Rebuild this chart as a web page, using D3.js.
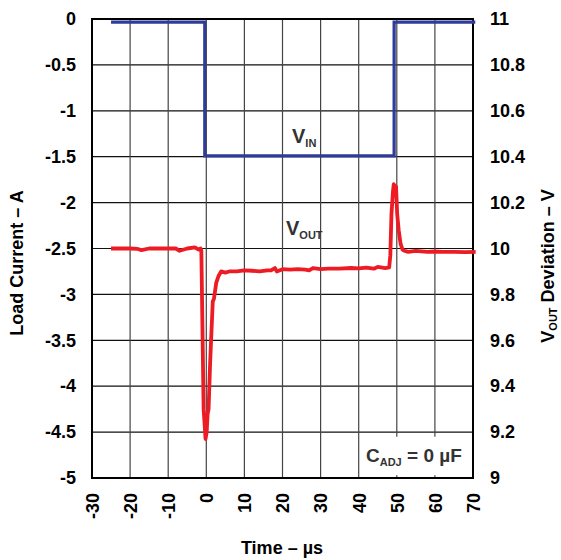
<!DOCTYPE html>
<html><head><meta charset="utf-8">
<script src="https://cdn.jsdelivr.net/npm/d3@7"></script>
<style>body{margin:0;background:#fff}svg{display:block}text{font-family:"Liberation Sans",Arial,sans-serif;font-weight:bold}</style>
</head><body><svg id="c" width="561" height="560"></svg>
<script>
const xTicks = [-30,-20,-10,0,10,20,30,40,50,60,70];
const leftTicks = [0,-0.5,-1,-1.5,-2,-2.5,-3,-3.5,-4,-4.5,-5];
const rightTicks = [11,10.8,10.6,10.4,10.2,10,9.8,9.6,9.4,9.2,9];
const vinTime = [-25,-0.4,-0.4,49.3,49.3,70.6];
const vinValue = [-0.035,-0.035,-1.49,-1.49,-0.035,-0.035];
const voutTime = [-25,-22,-20,-18,-17,-15,-12,-10,-8,-7,-5,-3,-2,-1.5,-1.3,-0.7,-0.5,-0.2,0.1,0.35,0.6,1.0,1.7,2.0,2.6,3.2,3.9,5,6,8,10,12,14,16,17,18,18.5,20,22,24,26,27,28,30,32,35,38,40,42,44,45,47,48,48.3,48.6,49,49.2,49.5,49.8,50.1,50.5,51,51.5,52,53,55,58,60,62,65,68,70.7];
const voutValue = [10.0,10.0,10.0,9.998,9.993,10.0,10.0,10.0,10.0,9.99,10.0,10.005,9.995,10.0,9.99,9.3,9.25,9.17,9.2,9.28,9.3,9.5,9.77,9.78,9.85,9.88,9.9,9.895,9.9,9.9,9.905,9.903,9.9,9.905,9.905,9.915,9.9,9.91,9.908,9.91,9.908,9.905,9.915,9.91,9.912,9.912,9.915,9.913,9.917,9.912,9.92,9.915,9.918,9.97,10.15,10.25,10.28,10.26,10.27,10.15,10.08,10.02,9.995,9.99,9.985,9.99,9.985,9.987,9.985,9.985,9.984,9.985];

const svg = d3.select("#c");
const L = 92, R = 473, T = 19, B = 478;
const x = d3.scaleLinear().domain([-30,70]).range([L,R]);
const yL = d3.scaleLinear().domain([-5,0]).range([B,T]);
const yR = d3.scaleLinear().domain([9,11]).range([B,T]);
const fmt = d => String(d);

// grid
svg.append("g").selectAll("line").data(leftTicks).join("line")
  .attr("x1",L).attr("x2",R).attr("y1",d=>yL(d)).attr("y2",d=>yL(d))
  .attr("stroke","#111").attr("stroke-width",1.2);
svg.append("g").selectAll("line").data(xTicks).join("line")
  .attr("y1",T).attr("y2",B).attr("x1",d=>x(d)).attr("x2",d=>x(d))
  .attr("stroke","#444").attr("stroke-width",1.2);

// annotation background
svg.append("rect").attr("x",x(43.3)).attr("y",yL(-4.55)).attr("width",x(70)-x(43.3)-2).attr("height",yL(-4.97)-yL(-4.55)).attr("fill","#fff");

// frame
svg.append("rect").attr("x",L).attr("y",T).attr("width",R-L).attr("height",B-T)
  .attr("fill","none").attr("stroke","#000").attr("stroke-width",2);

// axes
const axL = d3.axisLeft(yL).tickValues(leftTicks).tickSize(0).tickPadding(16).tickFormat(fmt);
const gL = svg.append("g").attr("transform",`translate(${L},0)`).call(axL);
const axR = d3.axisRight(yR).tickValues(rightTicks).tickSize(0).tickPadding(17).tickFormat(fmt);
const gR = svg.append("g").attr("transform",`translate(${R},0)`).call(axR);
const axB = d3.axisBottom(x).tickValues(xTicks).tickSize(0).tickFormat(fmt);
const gB = svg.append("g").attr("transform",`translate(0,${B})`).call(axB);
[gL,gR,gB].forEach(g=>{g.select(".domain").remove();g.selectAll("text").attr("font-size",18).attr("font-weight","bold").attr("fill","#000").attr("font-family","Liberation Sans, Arial, sans-serif");});
gB.selectAll("text").attr("transform","rotate(-90)").attr("text-anchor","end").attr("dy","0.35em").attr("x",-15).attr("y",0);

// lines
const vinData = vinTime.map((t,i)=>[t,vinValue[i]]);
svg.append("path").datum(vinData)
  .attr("d",d3.line().x(d=>x(d[0])).y(d=>yL(d[1])))
  .attr("fill","none").attr("stroke","#2e3b98").attr("stroke-width",3.2);
const voutData = voutTime.map((t,i)=>[t,voutValue[i]]);
svg.append("path").datum(voutData)
  .attr("d",d3.line().x(d=>x(d[0])).y(d=>yR(d[1])))
  .attr("fill","none").attr("stroke","#ed1c24").attr("stroke-width",3.8).attr("stroke-linejoin","round");

// labels
function subLabel(xp,yp,main,sub,size,subSize){
  const t = svg.append("text").attr("x",xp).attr("y",yp).attr("fill","#333").attr("font-size",size);
  t.append("tspan").text(main);
  t.append("tspan").attr("font-size",subSize).attr("dy",4).text(sub);
  return t;
}
subLabel(292,143,"V","IN",20,11);
subLabel(286,235,"V","OUT",20,11);
const ca = svg.append("text").attr("x",366).attr("y",462).attr("fill","#333").attr("font-size",19);
ca.append("tspan").text("C");
ca.append("tspan").attr("font-size",11).attr("dy",4).text("ADJ");
ca.append("tspan").attr("dy",-4).text(" = 0 µF");

svg.append("text").attr("transform","translate(23,263) rotate(-90)").attr("text-anchor","middle")
  .attr("font-size",18).attr("fill","#000").text("Load Current – A");
const rt = svg.append("text").attr("transform","translate(554,266) rotate(-90)").attr("text-anchor","middle")
  .attr("font-size",18).attr("fill","#000");
rt.append("tspan").text("V");
rt.append("tspan").attr("font-size",11).attr("dy",3).text("OUT");
rt.append("tspan").attr("dy",-3).text(" Deviation – V");
svg.append("text").attr("x",282).attr("y",554).attr("text-anchor","middle").attr("font-size",18).attr("fill","#000").text("Time – µs");
</script></body></html>
